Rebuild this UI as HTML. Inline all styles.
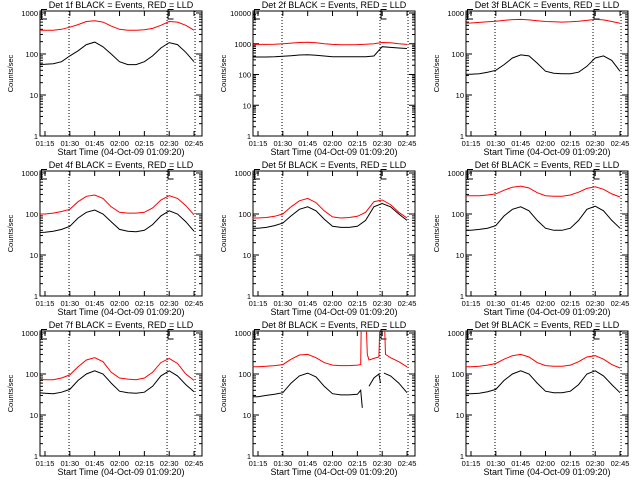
<!DOCTYPE html>
<html><head><meta charset="utf-8"><style>
html,body{margin:0;padding:0;background:#fff;}
svg{display:block;}
text{font-family:"Liberation Sans",sans-serif;font-size:9px;fill:#000;}
text.tk{font-size:7.5px;}
</style></head><body>
<svg id="chart" width="640" height="480" viewBox="0 0 640 480" xmlns="http://www.w3.org/2000/svg"></svg>
<script>
const times = [70,75,80,85,90,95,100,105,110,115,120,125,130,135,140,145,150,155,160,165];
const xTickLabels = ["01:15","01:30","01:45","02:00","02:15","02:30","02:45"];
const xTickTimes = [75,90,105,120,135,150,165];
const markerTimes = [89.5,148.7,165.6];
const black1 = [55,56,58,65,90,120,170,195,150,100,65,55,55,65,90,140,190,170,110,65];
const red1   = [380,380,380,400,450,520,620,650,600,480,400,380,380,390,420,500,620,600,500,380];
const black2 = [370,370,370,375,390,410,430,440,420,400,380,375,375,375,380,400,800,760,730,700];
const red2   = [950,950,950,960,1000,1050,1100,1120,1080,1000,950,930,930,940,960,1000,1100,1080,1000,950];
const black3 = [32,32,33,36,40,55,80,95,90,60,38,34,33,33,36,50,80,90,70,38];
const red3   = [560,570,590,610,630,660,690,700,680,650,620,610,600,610,630,660,700,680,620,560];
const black4 = [35,36,38,42,50,80,110,125,100,65,42,38,37,40,55,90,120,100,65,38];
const red4   = [100,100,105,115,130,200,270,290,240,150,110,105,105,110,140,220,280,240,160,95];
const black5 = [45,45,47,52,60,90,130,150,120,75,50,47,47,50,70,150,180,150,100,70];
const red5   = [80,80,82,88,100,150,210,240,190,120,85,80,82,88,110,200,220,170,110,80];
const black6 = [40,40,42,45,52,90,130,150,120,70,45,40,40,45,70,130,155,120,70,45];
const red6   = [280,280,280,290,310,380,450,480,430,330,280,270,270,290,340,420,460,400,310,260];
const black7 = [35,34,33,36,42,70,100,120,100,60,38,35,34,36,50,90,120,90,55,37];
const red7   = [75,72,72,80,95,150,220,250,200,110,80,75,72,80,110,190,240,180,100,70];
const times8b = [70,75,80,85,90,95,100,105,110,115,120,125,130,135,137,138,140,142,145,148,149,150,151,155,160,165];
const black8  = [28,28,30,32,35,60,90,105,85,50,33,31,31,32,40,15,null,50,80,100,60,null,105,90,60,35];
const times8r = [70,75,80,85,90,95,100,105,110,115,120,125,130,135,137,137.5,140,141,142,145,148,149,151,152,155,160,165];
const red8    = [150,150,155,160,170,230,290,300,250,190,165,160,160,165,170,5000,5000,300,220,240,260,5000,5000,300,250,200,150];
const black9 = [33,33,34,37,42,70,100,120,100,60,38,35,35,38,55,100,120,90,55,35];
const red9   = [150,150,155,165,180,230,280,300,260,190,160,155,155,165,200,260,280,230,170,140];

const panels = [
 {n:1,tb:times,b:black1,tr:times,r:red1,dec:3},
 {n:2,tb:times,b:black2,tr:times,r:red2,dec:4},
 {n:3,tb:times,b:black3,tr:times,r:red3,dec:3},
 {n:4,tb:times,b:black4,tr:times,r:red4,dec:3},
 {n:5,tb:times,b:black5,tr:times,r:red5,dec:3},
 {n:6,tb:times,b:black6,tr:times,r:red6,dec:3},
 {n:7,tb:times,b:black7,tr:times,r:red7,dec:3},
 {n:8,tb:times8b,b:black8,tr:times8r,r:red8,dec:3},
 {n:9,tb:times,b:black9,tr:times,r:red9,dec:3}
];
const svg = document.getElementById('chart');
const NS = 'http://www.w3.org/2000/svg';
function el(tag, attrs, parent){const e=document.createElementNS(NS,tag);for(const k in attrs)e.setAttribute(k,attrs[k]);(parent||svg).appendChild(e);return e;}

panels.forEach((p,i)=>{
  const col=i%3,row=Math.floor(i/3);
  const L=col*213+40, R=col*213+202, T=row*160+11, B=row*160+136;
  const top=T+2;
  const g=el('g',{});
  
  
  const xs=t=>L+5+(t-75)*1.656;
  const ys=v=>B-Math.log10(v)*(B-top)/p.dec;
  const cp=el('clipPath',{id:'cp'+i},g);
  el('rect',{x:L,y:T,width:R-L,height:B-T},cp);
  const ti=el('text',{x:(L+R)/2,y:T-3,'text-anchor':'middle'},g);
  ti.textContent='Det '+p.n+'f BLACK = Events, RED = LLD';
  
  
  const bx=el('rect',{x:L,y:T,width:R-L,height:B-T,fill:'none',stroke:'#000','stroke-width':1},g);
  
  
  for(let d=0;d<=p.dec;d++){
    const y=ys(Math.pow(10,d));
    el('line',{x1:L,x2:L+6,y1:y,y2:y,stroke:'#000'},g);
    el('line',{x1:R-6,x2:R,y1:y,y2:y,stroke:'#000'},g);
    const tl=el('text',{x:L-2,y:y+3,'text-anchor':'end','class':'tk'},g);
    tl.textContent=String(Math.pow(10,d));
    
    
    if(d<p.dec){for(let m=2;m<=9;m++){const ym=ys(m*Math.pow(10,d));
      el('line',{x1:L,x2:L+3,y1:ym,y2:ym,stroke:'#000'},g);
      el('line',{x1:R-3,x2:R,y1:ym,y2:ym,stroke:'#000'},g);}}
  }
  const yl=el('text',{x:0,y:0,transform:'translate('+(L-27)+','+((T+B)/2)+') rotate(-90)','text-anchor':'middle','class':'tk'},g);
  yl.textContent='Counts/sec';
  
  
  xTickTimes.forEach((t,k)=>{
    const x=xs(t);
    el('line',{x1:x,x2:x,y1:B,y2:B-5,stroke:'#000'},g);
    el('line',{x1:x,x2:x,y1:T,y2:T+5,stroke:'#000'},g);
    const xl=el('text',{x:x,y:B+10,'text-anchor':'middle','class':'tk'},g);
    xl.textContent=xTickLabels[k];
    
    
  });
  const xt=el('text',{x:(L+R)/2,y:B+19,'text-anchor':'middle'},g);
  xt.textContent='Start Time (04-Oct-09 01:09:20)';
  
  
  markerTimes.forEach(t=>{
    const ml=el('line',{x1:xs(t),x2:xs(t),y1:T,y2:B,stroke:'#000','stroke-dasharray':'1,2'},g);
    
    
  });
  [L+1,xs(149)].forEach(x=>{
    const em=el('path',{d:'M'+(x+0.5)+','+(T-2)+' V'+(T+8)+' H'+(x+6)+' M'+(x+0.5)+','+(T-1.5)+' H'+(x+6),fill:'none',stroke:'#000'},g);
    
    
  });
  function series(ts,vs,color,name){
    let d='',pen=false;
    ts.forEach((t,k)=>{const v=vs[k];
      if(v==null){pen=false;return;}
      d+=(pen?'L':'M')+xs(t).toFixed(1)+','+ys(v).toFixed(1)+' ';pen=true;});
    const pl=el('path',{d:d,fill:'none',stroke:color,'stroke-width':1,'clip-path':'url(#cp'+i+')'},g);
    
    
  }
  series(p.tr,p.r,'#ff0000','lld-series');
  series(p.tb,p.b,'#000000','events-series');
});
</script>
</body></html>
